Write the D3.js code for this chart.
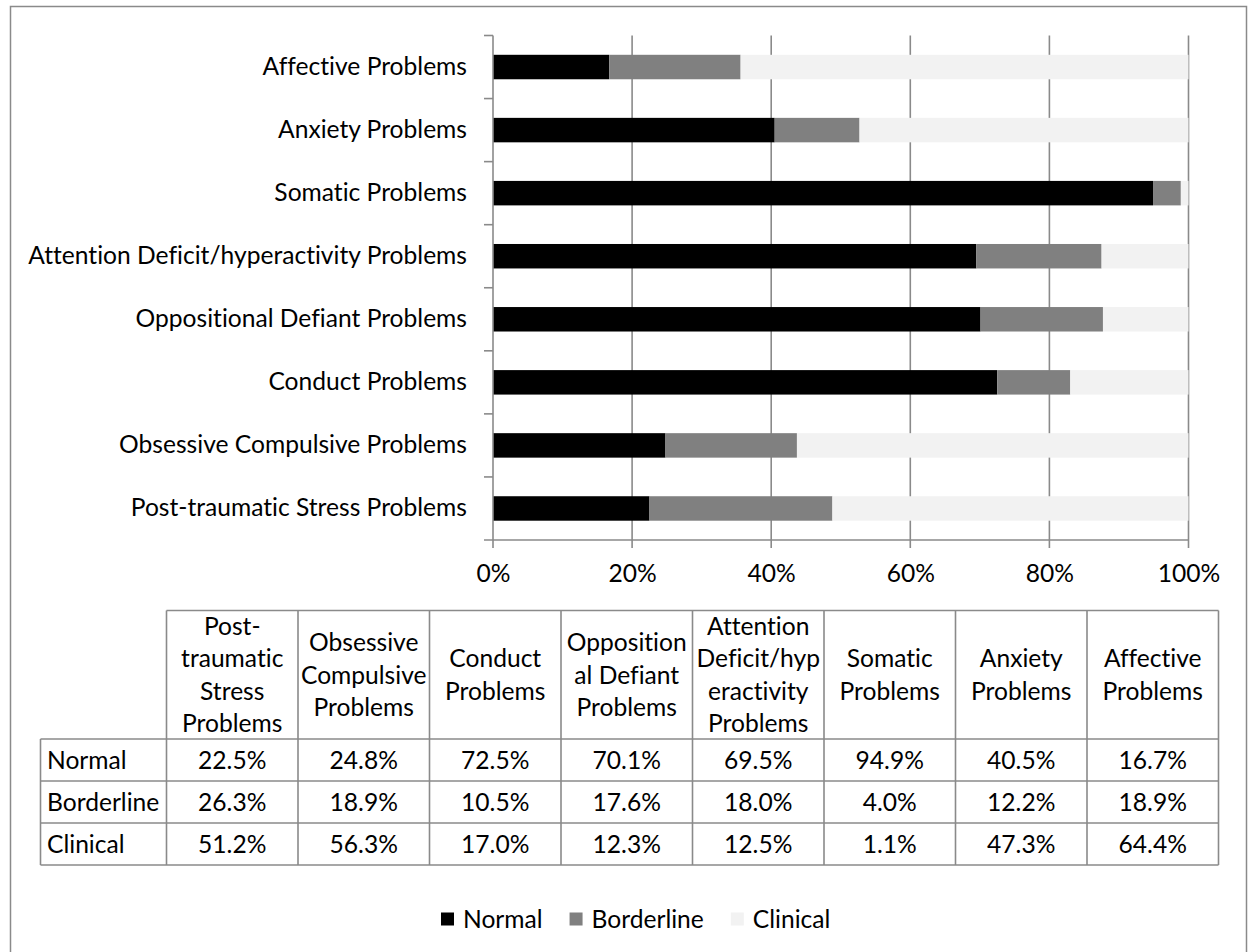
<!DOCTYPE html>
<html>
<head>
<meta charset="utf-8">
<script src="https://cdn.jsdelivr.net/npm/d3@7"></script>
<style>
  html, body { margin: 0; padding: 0; background: #ffffff; }
  svg { display: block; }
  text { font-family: Lato, "Open Sans", sans-serif; fill: #000; font-variant-ligatures: none; }
</style>
</head>
<body>
<svg id="chart" width="1248" height="952"></svg>
<script>
// Scale categories, listed in data-table order (first one is drawn at the bottom of the bars)
const categories = [
  "Post-traumatic Stress Problems",
  "Obsessive Compulsive Problems",
  "Conduct Problems",
  "Oppositional Defiant Problems",
  "Attention Deficit/hyperactivity Problems",
  "Somatic Problems",
  "Anxiety Problems",
  "Affective Problems"
];
// Wrapped header text for the data table columns
const headerLines = [
  ["Post-", "traumatic", "Stress", "Problems"],
  ["Obsessive", "Compulsive", "Problems"],
  ["Conduct", "Problems"],
  ["Opposition", "al Defiant", "Problems"],
  ["Attention", "Deficit/hyp", "eractivity", "Problems"],
  ["Somatic", "Problems"],
  ["Anxiety", "Problems"],
  ["Affective", "Problems"]
];
const seriesNames = ["Normal", "Borderline", "Clinical"];
const normal     = [22.5, 24.8, 72.5, 70.1, 69.5, 94.9, 40.5, 16.7];
const borderline = [26.3, 18.9, 10.5, 17.6, 18.0, 4.0, 12.2, 18.9];
const clinical   = [51.2, 56.3, 17.0, 12.3, 12.5, 1.1, 47.3, 64.4];
const xTicks = [0, 20, 40, 60, 80, 100];

const seriesValues = [normal, borderline, clinical];
const colors = ["#000000", "#808080", "#f2f2f2"];
const lineColor = "#8a8a8a";
const fontSize = 24.6;

const svg = d3.select("#chart");

// Outer chart frame
svg.append("rect")
  .attr("x", 10.5).attr("y", 6.5)
  .attr("width", 1236).attr("height", 980)
  .attr("fill", "none").attr("stroke", lineColor).attr("stroke-width", 1.5);

// Plot geometry
const plot = { left: 493, right: 1188.5, top: 35.5, bottom: 540 };

const x = d3.scaleLinear().domain([0, 100]).range([plot.left, plot.right]);
const y = d3.scaleBand()
  .domain(categories.slice().reverse())
  .range([plot.top, plot.bottom])
  .paddingInner(0.612)
  .paddingOuter(0.306);

// Stacked rows
const rows = categories.map((c, i) => {
  const r = { category: c };
  seriesNames.forEach((s, k) => { r[s] = seriesValues[k][i]; });
  return r;
});
const stacked = d3.stack().keys(seriesNames)(rows);

// Vertical gridlines (extend down as axis ticks)
const g = svg.append("g");
g.selectAll("line.grid")
  .data(xTicks.filter(d => d > 0))
  .join("line")
  .attr("class", "grid")
  .attr("x1", d => x(d)).attr("x2", d => x(d))
  .attr("y1", plot.top).attr("y2", plot.bottom + 8)
  .attr("stroke", lineColor).attr("stroke-width", 1.6);

// Bars
g.selectAll("g.series")
  .data(stacked)
  .join("g")
  .attr("class", "series")
  .attr("fill", (d, i) => colors[i])
  .selectAll("rect")
  .data(d => d)
  .join("rect")
  .attr("x", d => x(d[0]))
  .attr("width", d => x(d[1]) - x(d[0]))
  .attr("y", d => y(d.data.category))
  .attr("height", y.bandwidth());

// Vertical (category) axis line and boundary ticks
const step = y.step();
g.append("line")
  .attr("x1", x(0)).attr("x2", x(0))
  .attr("y1", plot.top).attr("y2", plot.bottom + 8)
  .attr("stroke", lineColor).attr("stroke-width", 1.6);
g.selectAll("line.ytick")
  .data(d3.range(categories.length))
  .join("line")
  .attr("class", "ytick")
  .attr("x1", x(0) - 9).attr("x2", x(0))
  .attr("y1", i => plot.top + i * step).attr("y2", i => plot.top + i * step)
  .attr("stroke", lineColor).attr("stroke-width", 1.6);

// Horizontal value axis line
g.append("line")
  .attr("x1", x(0) - 9).attr("x2", plot.right)
  .attr("y1", plot.bottom).attr("y2", plot.bottom)
  .attr("stroke", lineColor).attr("stroke-width", 1.6);

// Category labels
const yAxis = d3.axisLeft(y).tickSize(0).tickPadding(26);
const yAxisG = svg.append("g")
  .attr("transform", `translate(${x(0)},0)`)
  .call(yAxis);
yAxisG.select(".domain").remove();
yAxisG.selectAll("text")
  .attr("font-family", "Lato, 'Open Sans', sans-serif")
  .attr("font-size", fontSize)
  .attr("fill", "#000");

// Percentage labels
const xAxis = d3.axisBottom(x).tickValues(xTicks).tickSize(0).tickPadding(0)
  .tickFormat(d => d + "%");
const xAxisG = svg.append("g")
  .attr("transform", `translate(0,${plot.bottom})`)
  .call(xAxis);
xAxisG.select(".domain").remove();
xAxisG.selectAll("text")
  .attr("y", 42).attr("dy", null)
  .attr("font-family", "Lato, 'Open Sans', sans-serif")
  .attr("font-size", fontSize)
  .attr("fill", "#000");

// Data table
const table = { left: 40.5, labelRight: 166.5, right: 1218.5, top: 610.5, headerBottom: 739, rowH: 42 };
const col = d3.scaleBand().domain(categories).range([table.labelRight, table.right]);
const rowY = i => table.headerBottom + i * table.rowH;
const tg = svg.append("g");
const tableBottom = rowY(seriesNames.length);

// horizontal rules
tg.append("line")
  .attr("x1", table.labelRight).attr("x2", table.right)
  .attr("y1", table.top).attr("y2", table.top);
tg.selectAll("line.hr")
  .data(d3.range(seriesNames.length + 1))
  .join("line").attr("class", "hr")
  .attr("x1", table.left).attr("x2", table.right)
  .attr("y1", i => rowY(i)).attr("y2", i => rowY(i));
// vertical rules
tg.append("line")
  .attr("x1", table.left).attr("x2", table.left)
  .attr("y1", table.headerBottom).attr("y2", tableBottom);
tg.selectAll("line.vr")
  .data(categories)
  .join("line").attr("class", "vr")
  .attr("x1", d => col(d)).attr("x2", d => col(d))
  .attr("y1", table.top).attr("y2", tableBottom);
tg.append("line")
  .attr("x1", table.right).attr("x2", table.right)
  .attr("y1", table.top).attr("y2", tableBottom);
tg.selectAll("line").attr("stroke", lineColor).attr("stroke-width", 1.6);

// header text
const lineH = 32.5;
const headerMid = (table.top + table.headerBottom) / 2;
categories.forEach((c, i) => {
  const lines = headerLines[i];
  const t = tg.append("text")
    .attr("text-anchor", "middle")
    .attr("font-size", fontSize);
  lines.forEach((ln, k) => {
    t.append("tspan")
      .attr("x", col(c) + col.bandwidth() / 2)
      .attr("y", headerMid + (k - (lines.length - 1) / 2) * lineH)
      .attr("dy", "0.36em")
      .text(ln);
  });
});

// row labels and values
seriesNames.forEach((s, r) => {
  const cy = rowY(r) + table.rowH / 2;
  tg.append("text")
    .attr("x", 47).attr("y", cy).attr("dy", "0.36em")
    .attr("font-size", fontSize)
    .text(s);
  tg.selectAll(null)
    .data(categories)
    .join("text")
    .attr("x", d => col(d) + col.bandwidth() / 2)
    .attr("y", cy).attr("dy", "0.36em")
    .attr("text-anchor", "middle")
    .attr("font-size", fontSize)
    .text((d, i) => seriesValues[r][i].toFixed(1) + "%");
});

// Legend
const legend = svg.append("g");
let lx = 441;
seriesNames.forEach((s, i) => {
  legend.append("rect")
    .attr("x", lx).attr("y", 912.5)
    .attr("width", 13).attr("height", 13)
    .attr("fill", colors[i]);
  const t = legend.append("text")
    .attr("x", lx + 22).attr("y", 919).attr("dy", "0.36em")
    .attr("font-size", fontSize)
    .text(s);
  lx += 22 + t.node().getComputedTextLength() + 27;
});
</script>
</body>
</html>
